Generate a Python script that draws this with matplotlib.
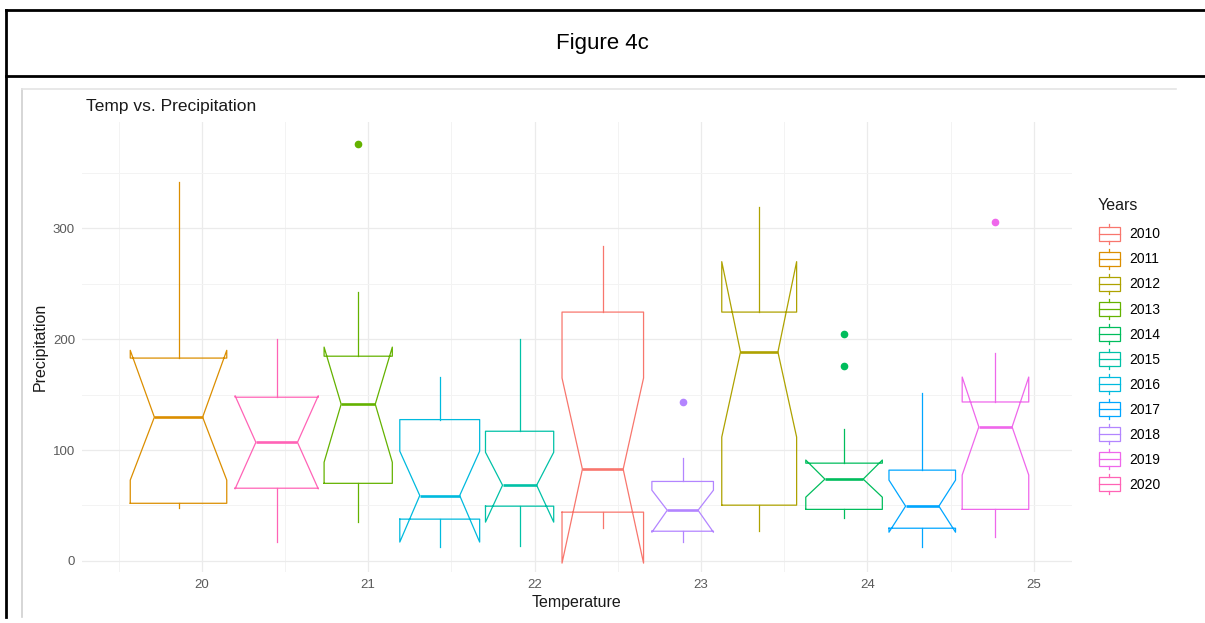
import matplotlib
matplotlib.use("Agg")
import matplotlib.pyplot as plt
from matplotlib.lines import Line2D
from matplotlib.patches import Rectangle, Patch
from matplotlib.legend_handler import HandlerBase

plt.rcParams['font.family'] = ['Liberation Sans', 'DejaVu Sans']

# data
years = ['2010', '2011', '2012', '2013', '2014', '2015', '2016', '2017', '2018', '2019', '2020']
temps = [22.41, 19.86, 23.35, 20.94, 23.86, 21.91, 21.43, 24.33, 22.89, 24.77, 20.45]
whislo = [29.5, 47.6, 26.8, 35.0, 38.4, 13.3, 12.4, 12.4, 16.9, 21.4, 17.0]
q1 = [44.0, 52.0, 50.3, 70.0, 46.5, 49.4, 37.7, 29.5, 26.8, 46.5, 65.6]
med = [82.8, 129.7, 188.5, 141.4, 73.8, 68.3, 59.0, 49.4, 45.7, 120.9, 107.0]
q3 = [224.5, 183.0, 224.5, 184.7, 88.2, 117.0, 127.5, 81.9, 71.7, 143.4, 147.7]
whishi = [284.0, 341.6, 319.0, 242.5, 118.9, 200.0, 166.0, 151.3, 92.7, 187.5, 200.0]
cilo = [-2.0, 72.9, 111.7, 89.0, 57.5, 35.0, 17.0, 25.9, 25.9, 77.5, 65.0]
cihi = [165.0, 190.0, 270.0, 192.9, 91.0, 98.0, 99.0, 72.9, 63.8, 165.9, 149.0]
outliers = [[], [], [], [376.0], [204.6, 175.7], [], [], [], [143.0], [305.5], []]

# layout / style
box_widths = [0.49, 0.58, 0.45, 0.41, 0.46, 0.41, 0.48, 0.40, 0.37, 0.40, 0.50]
colors = ['#F8766D', '#DB8E00', '#AEA200', '#64B200', '#00BD5C', '#00C1A7',
          '#00BADE', '#00A6FF', '#B385FF', '#EF67EB', '#FF63B6']

W, H = 1205, 623
fig = plt.figure(figsize=(W / 100, H / 100), dpi=100)


def fx(px):
    return px / W


def fy(py):
    return 1 - py / H


# outer table frame
for (x0, y0, x1, y1) in [(6, 10, 1205, 10), (6, 76, 1205, 76), (6, 10, 6, 617)]:
    fig.add_artist(Line2D([fx(x0), fx(x1)], [fy(y0), fy(y1)], color='black', lw=2.0))
# screenshot edge
fig.add_artist(Line2D([fx(22), fx(22)], [fy(89), fy(617)], color='#cfcfcf', lw=1.2))
fig.add_artist(Line2D([fx(22), fx(1176)], [fy(89), fy(89)], color='#e4e4e4', lw=1.2))

fig.text(fx(602), fy(43), 'Figure 4c', ha='center', va='center', fontsize=16)

ax = fig.add_axes([fx(82), fy(572), fx(1072 - 82), (572 - 122) / H])
ax.set_xlim(19.28, 25.23)
ax.set_ylim(-10, 396)

for i, y in enumerate(years):
    st = dict(med=med[i], q1=q1[i], q3=q3[i], whislo=whislo[i], whishi=whishi[i],
              cilo=cilo[i], cihi=cihi[i], fliers=outliers[i], label=y)
    c = colors[i]
    ax.bxp([st], positions=[temps[i]], widths=[box_widths[i]], shownotches=True,
           showcaps=False, manage_ticks=False,
           boxprops=dict(color=c, lw=0.9),
           whiskerprops=dict(color=c, lw=0.9),
           medianprops=dict(color=c, lw=1.9),
           flierprops=dict(marker='o', markerfacecolor=c, markeredgecolor=c,
                           markersize=4.5, linestyle='none'))

ax.set_xticks([20, 21, 22, 23, 24, 25])
ax.set_xticks([19.5, 20.5, 21.5, 22.5, 23.5, 24.5], minor=True)
ax.set_yticks([0, 100, 200, 300])
ax.set_yticks([50, 150, 250, 350], minor=True)
ax.grid(True, which='major', color='#ebebeb', lw=0.9)
ax.grid(True, which='minor', color='#f3f3f3', lw=0.7)
ax.set_axisbelow(True)
for s in ax.spines.values():
    s.set_visible(False)
ax.tick_params(which='both', length=0, labelsize=9.5, labelcolor='#5a5a5a')
ax.tick_params(axis='x', pad=5)
ax.tick_params(axis='y', pad=5)

fig.text(fx(86), fy(106), 'Temp vs. Precipitation', ha='left', va='center', fontsize=12.5, color='#1a1a1a')
fig.text(fx(577), fy(602), 'Temperature', ha='center', va='center', fontsize=11.5, color='#1a1a1a')
fig.text(fx(40), fy(347), 'Precipitation', ha='center', va='center', rotation=90, fontsize=11.5, color='#1a1a1a')


class BoxKey(HandlerBase):
    def create_artists(self, legend, orig_handle, xdescent, ydescent, width, height, fontsize, trans):
        c = orig_handle.get_edgecolor()
        x0 = -xdescent
        y0 = -ydescent
        xc = x0 + width / 2
        box = Rectangle((x0, y0 + 0.155 * height), width, 0.69 * height, facecolor='none',
                        edgecolor=c, lw=0.9, transform=trans)
        m = Line2D([x0, x0 + width], [y0 + 0.5 * height] * 2, color=c, lw=0.9, transform=trans)
        wt = Line2D([xc, xc], [y0 + 0.845 * height, y0 + height], color=c, lw=0.9, transform=trans)
        wb = Line2D([xc, xc], [y0, y0 + 0.155 * height], color=c, lw=0.9, transform=trans)
        return [box, m, wt, wb]


# legend title drawn on its own so the gap to the first key matches
fig.text(fx(1098), fy(206), 'Years', ha='left', va='center', fontsize=11.5, color='#1a1a1a')
handles = [Patch(edgecolor=c, facecolor='none') for c in colors]
fig.legend(handles, years, loc='upper left', bbox_to_anchor=(fx(1099), fy(224)),
           frameon=False, fontsize=10,
           handler_map={Patch: BoxKey()}, handlelength=1.5,
           handleheight=1.84, labelspacing=0.36, handletextpad=0.7, borderpad=0,
           borderaxespad=0)

fig.savefig('out.png', dpi=100)
